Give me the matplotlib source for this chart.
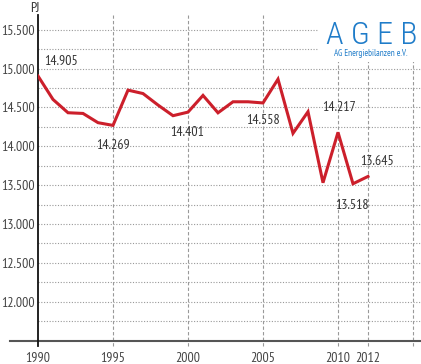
import matplotlib
matplotlib.use('Agg')
import matplotlib.pyplot as plt
from matplotlib.patches import Rectangle

plt.rcParams['font.family'] = ['PT Sans Narrow', 'DejaVu Sans']

# primary energy consumption, PJ
years = list(range(1990, 2013))
values = [14905, 14603, 14432, 14423, 14304, 14269, 14723, 14679, 14531, 14394,
          14440, 14655, 14431, 14573, 14573, 14558, 14864, 14167, 14445, 13531,
          14180, 13518, 13612]

# value labels: (year, text, x offset px, y offset px)
labels = [(1990, '14.905', 6, 14), (1995, '14.269', 0, -20), (2000, '14.401', -1, -20),
          (2005, '14.558', 0, -18), (2010, '14.217', 1, 25), (2012, '13.645', 9, 15),
          (2011, '13.518', -1, -22)]

yticks = [12000, 12500, 13000, 13500, 14000, 14500, 15000, 15500]
ytick_labels = ['12.000', '12.500', '13.000', '13.500', '14.000', '14.500', '15.000', '15.500']
xticks = [1990, 1995, 2000, 2005, 2010, 2012, 2015]
xtick_labels = ['1990', '1995', '2000', '2005', '2010', '2012', '']

fig = plt.figure(figsize=(4.21, 3.64), dpi=100)
ax = fig.add_axes([38 / 421, 22.7 / 364, 383 / 421, 326.3 / 364])
ax.set_xlim(1990, 1990 + 383 / 15.0)
ax.set_ylim(11490, 15690)

for s in ax.spines.values():
    s.set_visible(False)

# grid
for y in range(11750, 15750, 250):
    ax.axhline(y, color='#999999', lw=0.8, ls=(0, (1, 1.5)), zorder=1)
for x in xticks[1:]:
    ax.plot([x, x], [-0.015, 1], transform=ax.get_xaxis_transform(), color='#999999',
            lw=0.8, ls=(0, (3, 2)), clip_on=False, zorder=1)

# axes lines
ax.plot([-28 / 383, 1], [0, 0], transform=ax.transAxes, color='#555555', lw=1.5,
        clip_on=False, zorder=3)
ax.plot([0, 0], [-0.015, 1], transform=ax.transAxes, color='#111111', lw=1.3,
        clip_on=False, zorder=3)

ax.set_yticks(yticks)
ax.set_yticklabels(ytick_labels)
ax.set_xticks(xticks)
ax.set_xticklabels(xtick_labels)
ax.tick_params(axis='both', length=0, labelsize=10, labelcolor='#444444')
ax.tick_params(axis='y', pad=2.5)
ax.tick_params(axis='x', pad=8)

ax.plot(years, values, color='#cc1f2b', lw=2.2, zorder=4, solid_joinstyle='miter')

for yr, txt, dx, dy in labels:
    v = values[years.index(yr)]
    ax.annotate(txt, (yr, v), xytext=(dx * 0.72, dy * 0.72), textcoords='offset points',
                ha='left' if yr == 1990 else 'center', va='center', fontsize=10,
                color='#333333', zorder=5)

fig.text(35 / 421, 1 - 8 / 364, 'PJ', ha='center', va='center', fontsize=10, color='#333333')

# logo area
fig.patches.append(Rectangle((318 / 421, 1 - 62 / 364), 103 / 421, 50 / 364,
                             transform=fig.transFigure, facecolor='white',
                             edgecolor='none', zorder=6))
fig.text(372 / 421, 1 - 36 / 364, 'A G E B', ha='center', va='center', fontsize=23,
         color='#1f7cc9', family=['Roboto Condensed', 'DejaVu Sans'], fontweight='light',
         zorder=7)
fig.text(371 / 421, 1 - 54 / 364, 'AG Energiebilanzen e.V.', ha='center', va='center',
         fontsize=6.5, color='#1f7cc9', zorder=7)

fig.savefig('out.png', dpi=100)
